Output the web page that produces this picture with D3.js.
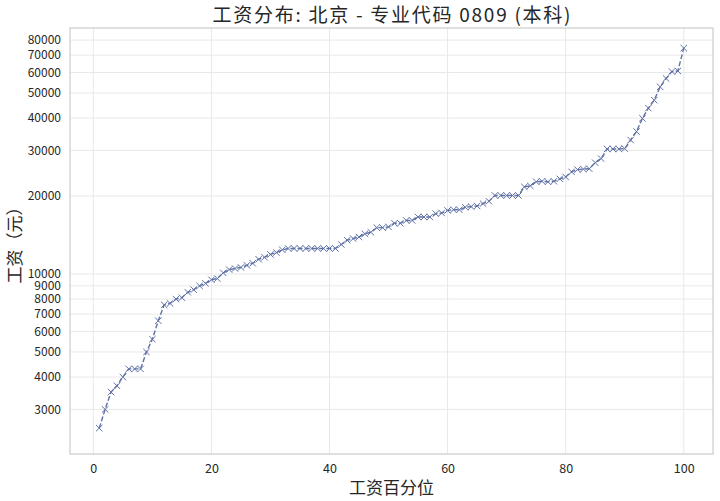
<!DOCTYPE html>
<html><head><meta charset="utf-8">
<script src="https://cdn.jsdelivr.net/npm/d3@7/dist/d3.min.js"></script>
<style>body{margin:0;background:#fff}svg{display:block}</style>
</head><body>
<svg id="c" width="720" height="501"></svg>
<script>
const percentiles = d3.range(1, 101);
const salaries = [
 2540, 3000, 3500, 3700, 4000, 4300, 4300, 4300, 5000, 5600,
 6600, 7600, 7700, 8000, 8100, 8500, 8700, 9000, 9200, 9500,
 9600, 10100, 10400, 10500, 10600, 10800, 11000, 11400, 11600, 11900,
 12100, 12400, 12550, 12550, 12550, 12550, 12550, 12550, 12550, 12550,
 12550, 13000, 13500, 13700, 13900, 14300, 14500, 15100, 15100, 15200,
 15700, 15700, 16100, 16100, 16600, 16600, 16600, 17100, 17200, 17600,
 17700, 17700, 18100, 18200, 18300, 18700, 19100, 20100, 20100, 20100,
 20100, 20100, 21700, 21900, 22700, 22800, 22700, 22800, 23300, 23700,
 24800, 25300, 25400, 25500, 26900, 27900, 30400, 30400, 30400, 30500,
 32900, 35500, 39900, 43700, 46900, 52800, 56900, 60500, 60800, 74500
];
const xTicks = [0, 20, 40, 60, 80, 100];
const yTicks = [3000, 4000, 5000, 6000, 7000, 8000, 9000, 10000, 20000, 30000, 40000, 50000, 60000, 70000, 80000];
const title = "工资分布: 北京 - 专业代码 0809 (本科)";
const xLabel = "工资百分位";
const yLabel = "工资（元）";

const font = "'Noto Sans CJK SC', 'Noto Sans', sans-serif";
const m = {l: 70, r: 7, t: 28, b: 47};
const W = 720, H = 501;
const svg = d3.select("#c");
const x = d3.scaleLinear().domain([-3.95, 104.95]).range([m.l, W - m.r]);
const y = d3.scaleLog().domain([2018, 89100]).range([H - m.b, m.t]);

const g = svg.append("g");
g.selectAll(".gx").data(xTicks).join("line")
  .attr("x1", d => x(d)).attr("x2", d => x(d))
  .attr("y1", m.t).attr("y2", H - m.b)
  .attr("stroke", "#e8e8e8").attr("stroke-width", 1);
g.selectAll(".gy").data(yTicks).join("line")
  .attr("y1", d => y(d)).attr("y2", d => y(d))
  .attr("x1", m.l).attr("x2", W - m.r)
  .attr("stroke", "#e8e8e8").attr("stroke-width", 1);

const xa = g.append("g").attr("transform", `translate(0,${H - m.b})`)
  .call(d3.axisBottom(x).tickValues(xTicks).tickSize(0).tickPadding(10).tickFormat(d3.format("d")));
const ya = g.append("g").attr("transform", `translate(${m.l},0)`)
  .call(d3.axisLeft(y).tickValues(yTicks).tickSize(0).tickPadding(9).tickFormat(d3.format("d")));
[xa, ya].forEach(a => {
  a.select(".domain").remove();
  a.selectAll("text").attr("font-family", font).attr("font-size", 12).attr("fill", "#262626");
});
xa.selectAll("text").attr("font-size", 12.5);

g.append("rect").attr("x", m.l).attr("y", m.t)
  .attr("width", W - m.r - m.l).attr("height", H - m.b - m.t)
  .attr("fill", "none").attr("stroke", "#cccccc").attr("stroke-width", 1.2);

const data = percentiles.map((p, i) => ({p, v: salaries[i]}));
const line = d3.line().x(d => x(d.p)).y(d => y(d.v));
g.append("path").datum(data).attr("d", line)
  .attr("fill", "none").attr("stroke", "#5f71a6").attr("stroke-width", 1.4)
  .attr("stroke-dasharray", "5,2.2");
const s = 3.2;
g.selectAll(".mk").data(data).join("path")
  .attr("d", d => `M${x(d.p)-s},${y(d.v)-s}L${x(d.p)+s},${y(d.v)+s}M${x(d.p)-s},${y(d.v)+s}L${x(d.p)+s},${y(d.v)-s}`)
  .attr("stroke", "#5f71a6").attr("stroke-width", 1).attr("fill", "none");

svg.append("text").attr("x", (m.l + W - m.r) / 2).attr("y", 22)
  .attr("text-anchor", "middle").attr("font-family", font).attr("font-size", 19)
  .attr("textLength", 358).attr("lengthAdjust", "spacing")
  .attr("fill", "#262626").text(title);
svg.append("text").attr("x", (m.l + W - m.r) / 2).attr("y", 494)
  .attr("text-anchor", "middle").attr("font-family", font).attr("font-size", 17)
  .attr("fill", "#262626").text(xLabel);
svg.append("text").attr("transform", `translate(21,${(m.t + H - m.b) / 2}) rotate(-90)`)
  .attr("text-anchor", "middle").attr("font-family", font).attr("font-size", 17)
  .attr("fill", "#262626").text(yLabel);
</script>
</body></html>
